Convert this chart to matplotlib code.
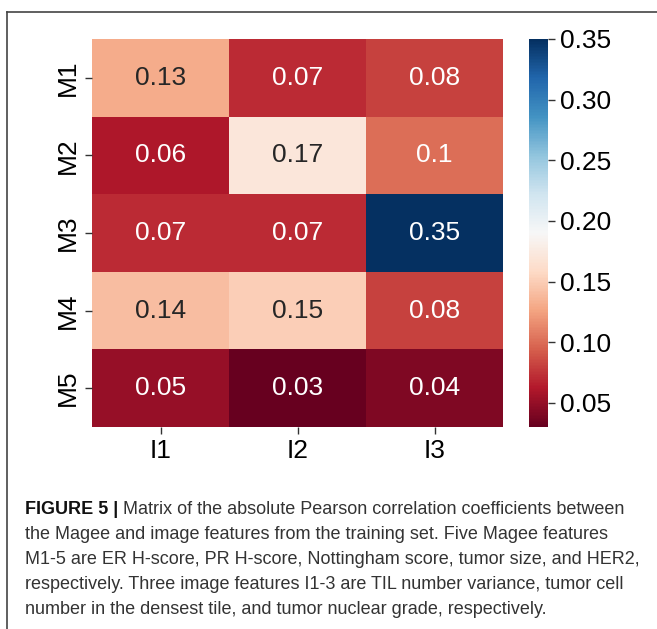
import matplotlib
matplotlib.use("Agg")
import matplotlib.pyplot as plt
import numpy as np
import seaborn as sns
from matplotlib.lines import Line2D

rows = ["M1", "M2", "M3", "M4", "M5"]
cols = ["I1", "I2", "I3"]
values = np.array([
    [0.13, 0.07, 0.08],
    [0.06, 0.17, 0.10],
    [0.07, 0.07, 0.35],
    [0.14, 0.15, 0.08],
    [0.05, 0.03, 0.04],
])
cbar_ticks = [0.05, 0.10, 0.15, 0.20, 0.25, 0.30, 0.35]

caption_bold = "FIGURE 5 |"
caption_lines = [
    " Matrix of the absolute Pearson correlation coefficients between",
    "the Magee and image features from the training set. Five Magee features",
    "M1-5 are ER H-score, PR H-score, Nottingham score, tumor size, and HER2,",
    "respectively. Three image features I1-3 are TIL number variance, tumor cell",
    "number in the densest tile, and tumor nuclear grade, respectively.",
]

plt.rcParams['font.family'] = ['Liberation Sans', 'DejaVu Sans']

fig = plt.figure(figsize=(6.57, 6.29), dpi=100)
ax = fig.add_axes([92/657, 1-427/629, 411/657, 388/629])
cax = fig.add_axes([529/657, 1-427/629, 19/657, 388/629])

sns.heatmap(values, ax=ax, cbar_ax=cax, cmap="RdBu", vmin=0.03, vmax=0.35,
            annot=True, annot_kws={"fontsize": 19},
            xticklabels=cols, yticklabels=rows)

ax.tick_params(axis='both', labelsize=19, length=5, width=1, color='#333333')
ax.set_yticklabels(rows, rotation=90, va='center')
ax.set_xticklabels(cols, rotation=0)
cax.tick_params(labelsize=19, length=5, width=1, color='#333333')
cax.set_yticks(cbar_ticks)
cax.set_yticklabels([f"{t:.2f}" for t in cbar_ticks])

# frame lines (left and top)
fig.add_artist(Line2D([7/657, 7/657], [0, 1-12/629], transform=fig.transFigure,
                      color='#444444', lw=1.2))
fig.add_artist(Line2D([7/657, 1], [1-12/629, 1-12/629], transform=fig.transFigure,
                      color='#444444', lw=1.2))

# caption
x0 = 25/657
y0 = 1 - 514/629
dy = 25/629
fs = 13.0
tb = fig.text(x0, y0, caption_bold, fontsize=fs, fontweight='bold', color='#111111',
              va='baseline', ha='left')
fig.canvas.draw()
r = fig.canvas.get_renderer()
bb = tb.get_window_extent(renderer=r)
x1 = bb.x1 / fig.bbox.width
fig.text(x1, y0, caption_lines[0], fontsize=fs, color='#333333', va='baseline', ha='left')
for i, line in enumerate(caption_lines[1:], start=1):
    fig.text(x0, y0 - i*dy, line, fontsize=fs, color='#333333', va='baseline', ha='left')

fig.savefig("out.png", dpi=100)
